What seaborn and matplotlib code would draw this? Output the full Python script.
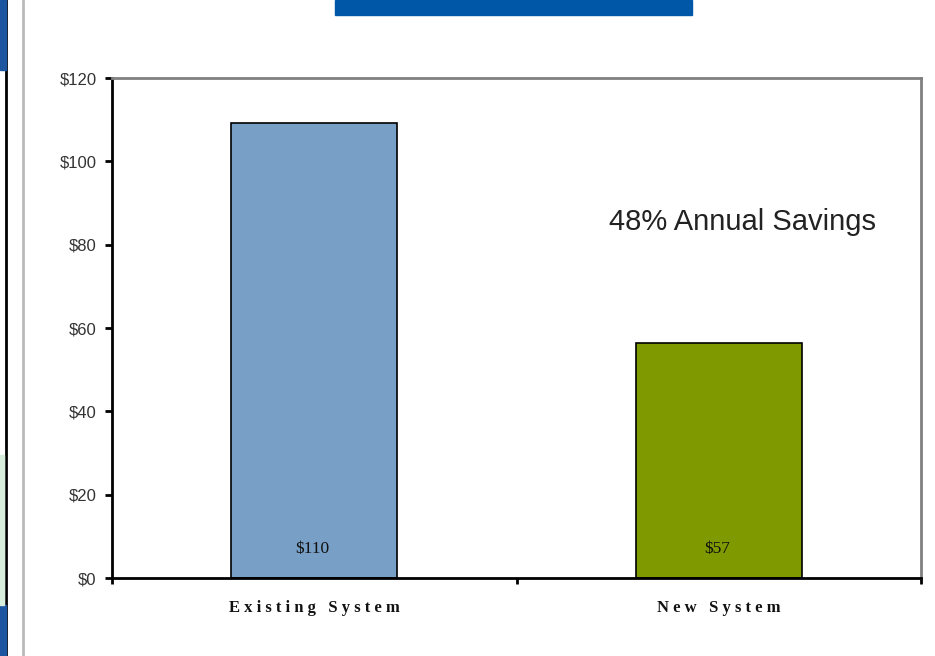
import matplotlib
matplotlib.use("Agg")
import matplotlib.pyplot as plt
import seaborn as sns
from matplotlib.patches import Rectangle
from matplotlib.lines import Line2D

# data
categories = ["Existing System", "New System"]
costs = [109.2, 56.4]
value_labels = ["$110", "$57"]
bar_colors = ["#789fc6", "#7f9a00"]
yticks = [0, 20, 40, 60, 80, 100, 120]
savings_note = "48% Annual Savings"

sns.set_theme(style="white")
plt.rcParams["font.family"] = ["Liberation Sans", "DejaVu Sans"]
serif = ["Liberation Serif", "DejaVu Serif"]

fig = plt.figure(figsize=(9.35, 6.56), dpi=100)
ax = fig.add_axes([112 / 935, 78 / 656, 809 / 935, 500 / 656])

sns.barplot(
    x=categories, y=costs, hue=categories, palette=bar_colors,
    legend=False, width=0.41, edgecolor="black", linewidth=1.2,
    saturation=1, ax=ax,
)

ax.set_xlim(-0.5, 1.5)
ax.set_ylim(0, 120)
ax.set_yticks(yticks)
ax.set_yticklabels([f"${v}" for v in yticks], fontsize=12, color="#333333")

# category labels, letter-spaced bold serif like the original
ax.set_xticks(range(len(categories)))
ax.set_xticklabels(
    ["\u2005".join(c) for c in categories],
    fontsize=12, fontweight="bold", family=serif, color="#111111",
)
ax.tick_params(axis="x", which="major", length=0, pad=16)
ax.set_xticks([-0.5, 0.5, 1.5], minor=True)
ax.tick_params(axis="x", which="minor", bottom=True, length=4, width=2,
               color="black", direction="out")
ax.tick_params(axis="y", left=True, length=5, width=2, color="black",
               direction="out", pad=6)

for side in ["left", "bottom"]:
    ax.spines[side].set_color("black")
    ax.spines[side].set_linewidth(2)
for side in ["top", "right"]:
    ax.spines[side].set_color("#808080")
    ax.spines[side].set_linewidth(2)

# value labels near the base of each bar
for i, lab in enumerate(value_labels):
    ax.text(i - 0.005, 7, lab, ha="center", va="center", fontsize=12.5,
            family=serif, color="#111111")

ax.text(0.779, 0.712, savings_note, transform=ax.transAxes, ha="center",
        va="center", fontsize=21, color="#222222")

# slide decorations around the chart
fig.patches.append(Rectangle((335 / 935, 1 - 15 / 656), 357 / 935, 15 / 656,
                             transform=fig.transFigure, color="#0057a8", zorder=5))
fig.patches.append(Rectangle((0, 1 - 70 / 656), 6 / 935, 70 / 656,
                             transform=fig.transFigure, color="#1c56a0", zorder=5))
fig.patches.append(Rectangle((0, 0), 6 / 935, 51 / 656,
                             transform=fig.transFigure, color="#1c56a0", zorder=5))
fig.patches.append(Rectangle((0, 51 / 656), 4 / 935, 150 / 656,
                             transform=fig.transFigure, color="#d8eedd", zorder=5))
fig.lines.append(Line2D([5.5 / 935, 5.5 / 935], [0, 1], transform=fig.transFigure,
                        color="black", linewidth=2))
fig.lines.append(Line2D([22.5 / 935, 22.5 / 935], [0, 1], transform=fig.transFigure,
                        color="#bbbbbb", linewidth=2))

fig.savefig("out.png", dpi=100)
